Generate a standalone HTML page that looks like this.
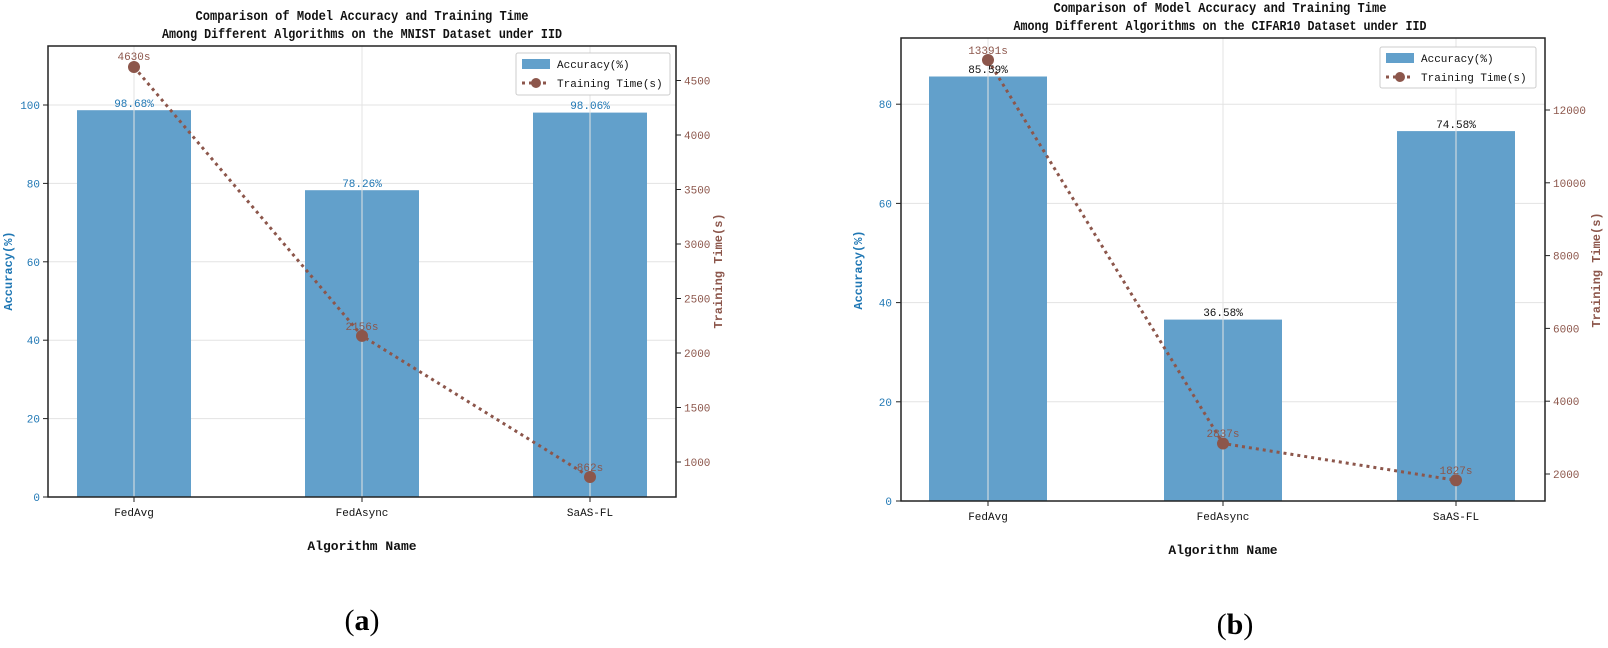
<!DOCTYPE html>
<html><head><meta charset="utf-8"><style>
html,body{margin:0;padding:0;background:#fff;}
svg{display:block;font-family:"Liberation Mono","WenQuanYi Zen Hei",monospace;}
.t{font-size:14px;font-weight:bold;fill:#111;}
.k{font-size:11px;}
.b{fill:#1f77b4;}
.r{fill:#8c564b;}
.g{stroke:#e3e3e3;stroke-width:1;}
</style></head><body>
<svg width="1608" height="648" viewBox="0 0 1608 648">
<!-- LEFT CHART -->
<text class="t" x="362" y="20" text-anchor="middle" textLength="333" lengthAdjust="spacingAndGlyphs">Comparison of Model Accuracy and Training Time</text>
<text class="t" x="362" y="38" text-anchor="middle" textLength="400" lengthAdjust="spacingAndGlyphs">Among Different Algorithms on the MNIST Dataset under IID</text>
<g>
<line class="g" x1="48" x2="676" y1="418.6" y2="418.6"/><line class="g" x1="48" x2="676" y1="340.2" y2="340.2"/>
<line class="g" x1="48" x2="676" y1="261.8" y2="261.8"/><line class="g" x1="48" x2="676" y1="183.4" y2="183.4"/>
<line class="g" x1="48" x2="676" y1="105" y2="105"/>
<rect x="77" y="110.2" width="114" height="386.8" fill="#62a0cb"/>
<rect x="305" y="190.2" width="114" height="306.8" fill="#62a0cb"/>
<rect x="533" y="112.6" width="114" height="384.4" fill="#62a0cb"/>
<line class="g" x1="134" x2="134" y1="46" y2="497"/><line class="g" x1="362" x2="362" y1="46" y2="497"/><line class="g" x1="590" x2="590" y1="46" y2="497"/>
<rect x="48" y="46" width="628" height="451" fill="none" stroke="#222" stroke-width="1.5"/>
<polyline points="134,67 362,335.9 590,477" fill="none" stroke="#8c564b" stroke-width="3" stroke-dasharray="3,4"/>
<circle cx="134" cy="67" r="6" fill="#8c564b"/><circle cx="362" cy="335.9" r="6" fill="#8c564b"/><circle cx="590" cy="477" r="6" fill="#8c564b"/>
<text class="k r" x="134" y="60" text-anchor="middle">4630s</text>
<text class="k r" x="362" y="330" text-anchor="middle">2156s</text>
<text class="k r" x="590" y="471" text-anchor="middle">862s</text>
<text class="k b" x="134" y="107" text-anchor="middle">98.68%</text>
<text class="k b" x="362" y="187" text-anchor="middle">78.26%</text>
<text class="k b" x="590" y="109" text-anchor="middle">98.06%</text>
<g class="k b" text-anchor="end">
<text x="40" y="501">0</text><text x="40" y="422.6">20</text><text x="40" y="344.2">40</text><text x="40" y="265.8">60</text><text x="40" y="187.4">80</text><text x="40" y="109">100</text>
</g>
<g stroke="#222"><line x1="43" x2="48" y1="497" y2="497"/><line x1="43" x2="48" y1="418.6" y2="418.6"/><line x1="43" x2="48" y1="340.2" y2="340.2"/><line x1="43" x2="48" y1="261.8" y2="261.8"/><line x1="43" x2="48" y1="183.4" y2="183.4"/><line x1="43" x2="48" y1="105" y2="105"/>
<line x1="676" x2="681" y1="462" y2="462"/><line x1="676" x2="681" y1="407.5" y2="407.5"/><line x1="676" x2="681" y1="353" y2="353"/><line x1="676" x2="681" y1="298.5" y2="298.5"/><line x1="676" x2="681" y1="244" y2="244"/><line x1="676" x2="681" y1="189.5" y2="189.5"/><line x1="676" x2="681" y1="135" y2="135"/><line x1="676" x2="681" y1="80.5" y2="80.5"/>
<line x1="134" x2="134" y1="497" y2="502"/><line x1="362" x2="362" y1="497" y2="502"/><line x1="590" x2="590" y1="497" y2="502"/></g>
<g class="k r">
<text x="684" y="466">1000</text><text x="684" y="411.5">1500</text><text x="684" y="357">2000</text><text x="684" y="302.5">2500</text><text x="684" y="248">3000</text><text x="684" y="193.5">3500</text><text x="684" y="139">4000</text><text x="684" y="84.5">4500</text>
</g>
<g class="k" text-anchor="middle" fill="#111"><text x="134" y="516">FedAvg</text><text x="362" y="516">FedAsync</text><text x="590" y="516">SaAS-FL</text></g>
<text x="362" y="550" text-anchor="middle" font-size="13" font-weight="bold" fill="#111">Algorithm Name</text>
<text transform="translate(12,271) rotate(-90)" text-anchor="middle" font-size="12" font-weight="bold" class="b">Accuracy(%)</text>
<text transform="translate(722,271) rotate(-90)" text-anchor="middle" font-size="12" font-weight="bold" class="r">Training Time(s)</text>
<rect x="516" y="53" width="154" height="42" fill="#fff" stroke="#ccc" rx="2"/>
<rect x="522" y="59" width="28" height="10" fill="#62a0cb"/>
<text class="k" x="557" y="68" fill="#111">Accuracy(%)</text>
<line x1="522" x2="550" y1="83" y2="83" stroke="#8c564b" stroke-width="3" stroke-dasharray="3,4"/><circle cx="536" cy="83" r="5" fill="#8c564b"/>
<text class="k" x="557" y="87" fill="#111">Training Time(s)</text>
<text x="362" y="630" text-anchor="middle" font-family="Liberation Serif,serif" font-size="30">(<tspan font-weight="bold">a</tspan>)</text>
</g>

<!-- RIGHT CHART -->
<text class="t" x="1220" y="12" text-anchor="middle" textLength="333" lengthAdjust="spacingAndGlyphs">Comparison of Model Accuracy and Training Time</text>
<text class="t" x="1220" y="30" text-anchor="middle" textLength="413" lengthAdjust="spacingAndGlyphs">Among Different Algorithms on the CIFAR10 Dataset under IID</text>
<g>
<line class="g" x1="901" x2="1545" y1="401.8" y2="401.8"/><line class="g" x1="901" x2="1545" y1="302.6" y2="302.6"/>
<line class="g" x1="901" x2="1545" y1="203.4" y2="203.4"/><line class="g" x1="901" x2="1545" y1="104.2" y2="104.2"/>
<rect x="929" y="76.5" width="118" height="424.5" fill="#62a0cb"/>
<rect x="1164" y="319.6" width="118" height="181.4" fill="#62a0cb"/>
<rect x="1397" y="131.1" width="118" height="369.9" fill="#62a0cb"/>
<line class="g" x1="988" x2="988" y1="38" y2="501"/><line class="g" x1="1223" x2="1223" y1="38" y2="501"/><line class="g" x1="1456" x2="1456" y1="38" y2="501"/>
<rect x="901" y="38" width="644" height="463" fill="none" stroke="#222" stroke-width="1.5"/>
<polyline points="988,60 1223,443.5 1456,480.3" fill="none" stroke="#8c564b" stroke-width="3" stroke-dasharray="3,4"/>
<circle cx="988" cy="60" r="6" fill="#8c564b"/><circle cx="1223" cy="443.5" r="6" fill="#8c564b"/><circle cx="1456" cy="480.3" r="6" fill="#8c564b"/>
<text class="k r" x="988" y="54" text-anchor="middle">13391s</text>
<text class="k r" x="1223" y="437" text-anchor="middle">2837s</text>
<text class="k r" x="1456" y="474" text-anchor="middle">1827s</text>
<text class="k" fill="#111" x="988" y="73" text-anchor="middle">85.59%</text>
<text class="k" fill="#111" x="1223" y="316" text-anchor="middle">36.58%</text>
<text class="k" fill="#111" x="1456" y="128" text-anchor="middle">74.58%</text>
<g class="k b" text-anchor="end">
<text x="892" y="505">0</text><text x="892" y="405.8">20</text><text x="892" y="306.6">40</text><text x="892" y="207.4">60</text><text x="892" y="108.2">80</text>
</g>
<g stroke="#222"><line x1="896" x2="901" y1="501" y2="501"/><line x1="896" x2="901" y1="401.8" y2="401.8"/><line x1="896" x2="901" y1="302.6" y2="302.6"/><line x1="896" x2="901" y1="203.4" y2="203.4"/><line x1="896" x2="901" y1="104.2" y2="104.2"/>
<line x1="1545" x2="1550" y1="474" y2="474"/><line x1="1545" x2="1550" y1="401.2" y2="401.2"/><line x1="1545" x2="1550" y1="328.4" y2="328.4"/><line x1="1545" x2="1550" y1="255.6" y2="255.6"/><line x1="1545" x2="1550" y1="182.8" y2="182.8"/><line x1="1545" x2="1550" y1="110" y2="110"/>
<line x1="988" x2="988" y1="501" y2="506"/><line x1="1223" x2="1223" y1="501" y2="506"/><line x1="1456" x2="1456" y1="501" y2="506"/></g>
<g class="k r">
<text x="1553" y="478">2000</text><text x="1553" y="405.2">4000</text><text x="1553" y="332.4">6000</text><text x="1553" y="259.6">8000</text><text x="1553" y="186.8">10000</text><text x="1553" y="114">12000</text>
</g>
<g class="k" text-anchor="middle" fill="#111"><text x="988" y="520">FedAvg</text><text x="1223" y="520">FedAsync</text><text x="1456" y="520">SaAS-FL</text></g>
<text x="1223" y="554" text-anchor="middle" font-size="13" font-weight="bold" fill="#111">Algorithm Name</text>
<text transform="translate(862,270) rotate(-90)" text-anchor="middle" font-size="12" font-weight="bold" class="b">Accuracy(%)</text>
<text transform="translate(1600,270) rotate(-90)" text-anchor="middle" font-size="12" font-weight="bold" class="r">Training Time(s)</text>
<rect x="1380" y="47" width="156" height="41" fill="#fff" stroke="#ccc" rx="2"/>
<rect x="1386" y="53" width="28" height="10" fill="#62a0cb"/>
<text class="k" x="1421" y="62" fill="#111">Accuracy(%)</text>
<line x1="1386" x2="1414" y1="77" y2="77" stroke="#8c564b" stroke-width="3" stroke-dasharray="3,4"/><circle cx="1400" cy="77" r="5" fill="#8c564b"/>
<text class="k" x="1421" y="81" fill="#111">Training Time(s)</text>
<text x="1235" y="634" text-anchor="middle" font-family="Liberation Serif,serif" font-size="30">(<tspan font-weight="bold">b</tspan>)</text>
</g>
</svg>
</body></html>
